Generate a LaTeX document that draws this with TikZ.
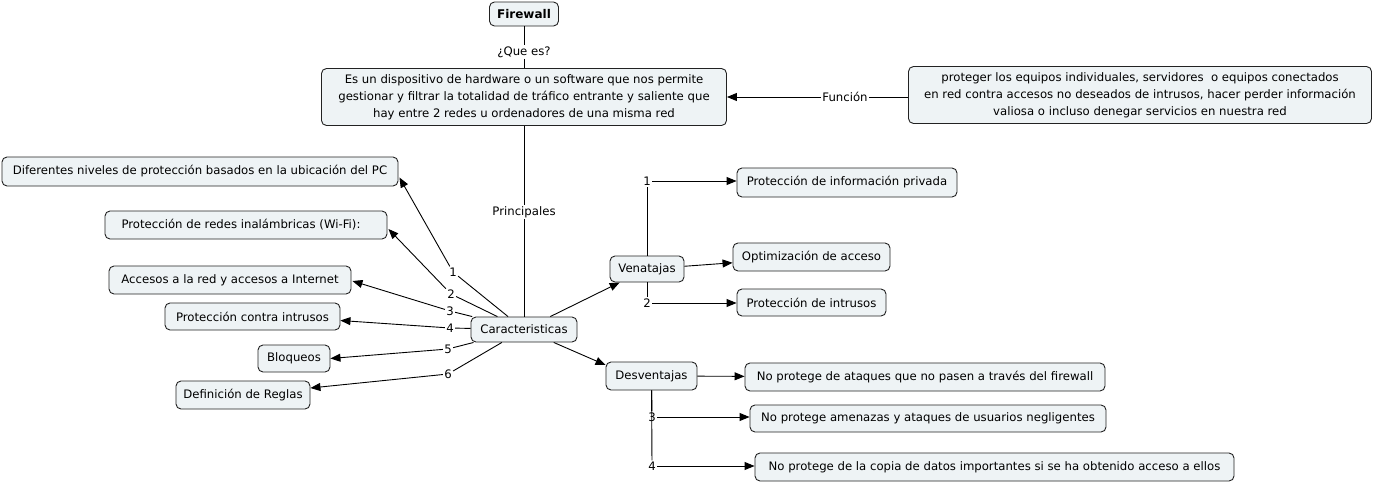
\documentclass[tikz,border=0pt]{standalone}
\usepackage{fontspec}
\setmainfont{DejaVu Sans}
\usetikzlibrary{arrows.meta,calc}
\definecolor{boxfill}{HTML}{EEF3F5}
\definecolor{boxline}{HTML}{222222}
\tikzset{
  concept/.style={draw=boxline, line width=0.9pt, fill=boxfill, rounded corners=5pt,
    font=\fontsize{11.7}{17}\selectfont, align=center, inner sep=0pt},
  lnk/.style={font=\fontsize{11.7}{13}\selectfont, inner sep=1.2pt},
  conn/.style={line width=0.9pt, draw=black},
  arr/.style={conn, -{Triangle[length=10pt,width=8pt]}},
}
\begin{document}
\begin{tikzpicture}[x=1pt,y=-1pt]
\useasboundingbox (0,0) rectangle (1374,482);
% concepts
\node[concept, minimum width=69pt, minimum height=24pt, font=\fontsize{12}{13}\selectfont\bfseries] (fw) at (524,14) {Firewall};
\node[concept, minimum width=405pt, minimum height=57pt] (def) at (524,97) {Es un dispositivo de hardware o un software que nos permite\\gestionar y filtrar la totalidad de tráfico entrante y saliente que\\hay entre 2 redes u ordenadores de una misma red};
\node[concept, minimum width=463pt, minimum height=57pt] (fun) at (1140,95) {proteger los equipos individuales, servidores\ \ o equipos conectados\\en red contra accesos no deseados de intrusos, hacer perder información\\valiosa o incluso denegar servicios en nuestra red};
\node[concept, minimum width=106pt, minimum height=25pt] (car) at (524,329.5) {Caracteristicas};
\node[concept, minimum width=396pt, minimum height=29pt] (dif) at (200,171.5) {Diferentes niveles de protección basados en la ubicación del PC};
\node[concept, minimum width=282pt, minimum height=28pt] (wifi) at (246,225) {Protección de redes inalámbricas (Wi-Fi):\hspace*{10pt}};
\node[concept, minimum width=242pt, minimum height=28pt] (acc) at (230,280) {Accesos a la red y accesos a Internet};
\node[concept, minimum width=175pt, minimum height=27pt] (pci) at (252.5,316.5) {Protección contra intrusos};
\node[concept, minimum width=72pt, minimum height=27pt] (blo) at (294,358.5) {Bloqueos};
\node[concept, minimum width=134pt, minimum height=28pt] (reg) at (243,395) {Definición de Reglas};
\node[concept, minimum width=74pt, minimum height=26pt] (ven) at (647,269) {Venatajas};
\node[concept, minimum width=91pt, minimum height=28pt] (des) at (651.5,376) {Desventajas};
\node[concept, minimum width=220pt, minimum height=29pt] (pip) at (847,182.5) {Protección de información privada};
\node[concept, minimum width=157pt, minimum height=28pt] (opt) at (811.5,257) {Optimización de acceso};
\node[concept, minimum width=149pt, minimum height=27pt] (pin) at (811.5,302.5) {Protección de intrusos};
\node[concept, minimum width=360pt, minimum height=28pt] (nd1) at (925,377) {No protege de ataques que no pasen a través del firewall};
\node[concept, minimum width=356pt, minimum height=27pt] (nd2) at (928,418.5) {No protege amenazas y ataques de usuarios negligentes};
\node[concept, minimum width=479pt, minimum height=28pt] (nd3) at (994.5,467) {No protege de la copia de datos importantes si se ha obtenido acceso a ellos};
% linking phrases
\node[lnk] (lque) at (524,52) {¿Que es?};
\node[lnk] (lfun) at (845,97) {Función};
\node[lnk] (lpri) at (524,212) {Principales};
\node[lnk] (c1) at (453,272) {1};
\node[lnk] (c2) at (451,294) {2};
\node[lnk] (c3) at (450,311) {3};
\node[lnk] (c4) at (450,328) {4};
\node[lnk] (c5) at (448,349) {5};
\node[lnk] (c6) at (448,374) {6};
\node[lnk] (v1) at (647,181) {1};
\node[lnk] (v2) at (647,303) {2};
\node[lnk] (d3) at (652,417) {3};
\node[lnk] (d4) at (652,466) {4};
% connectors
\draw[conn] (fw) -- (lque);
\draw[conn] (lque) -- (def);
\draw[conn] (fun.west |- lfun) -- (lfun);
\draw[arr] (lfun) -- (def.east |- lfun);
\draw[conn] (def) -- (lpri);
\draw[conn] (lpri) -- (car);
\foreach \c in {c1,c2,c3,c4,c5,c6} \draw[conn] (car) -- (\c);
\draw[arr] (c1) -- ($(dif.east)+(1,6)$);
\draw[arr] (c2) -- ($(wifi.east)+(1,4)$);
\draw[arr] (c3) -- ($(acc.east)+(1,1)$);
\draw[arr] (c4) -- ($(pci.east)+(0,4)$);
\draw[arr] (c5) -- (blo.east);
\draw[arr] (c6) -- ($(reg.east)+(0,-7)$);
\draw[arr] (car) -- (ven);
\draw[arr] (car) -- ($(des.west)+(0,-11)$);
\draw[conn] (ven) -- (v1);
\draw[arr] (v1) -- (v1 -| pip.west);
\draw[arr] (ven) -- (opt);
\draw[conn] (ven) -- (v2);
\draw[arr] (v2) -- (v2 -| pin.west);
\draw[arr] (des) -- (nd1);
\draw[conn] (des) -- (d3);
\draw[arr] (d3) -- (d3 -| nd2.west);
\draw[conn] (des) -- (d4);
\draw[arr] (d4) -- (d4 -| nd3.west);
\end{tikzpicture}
\end{document}
